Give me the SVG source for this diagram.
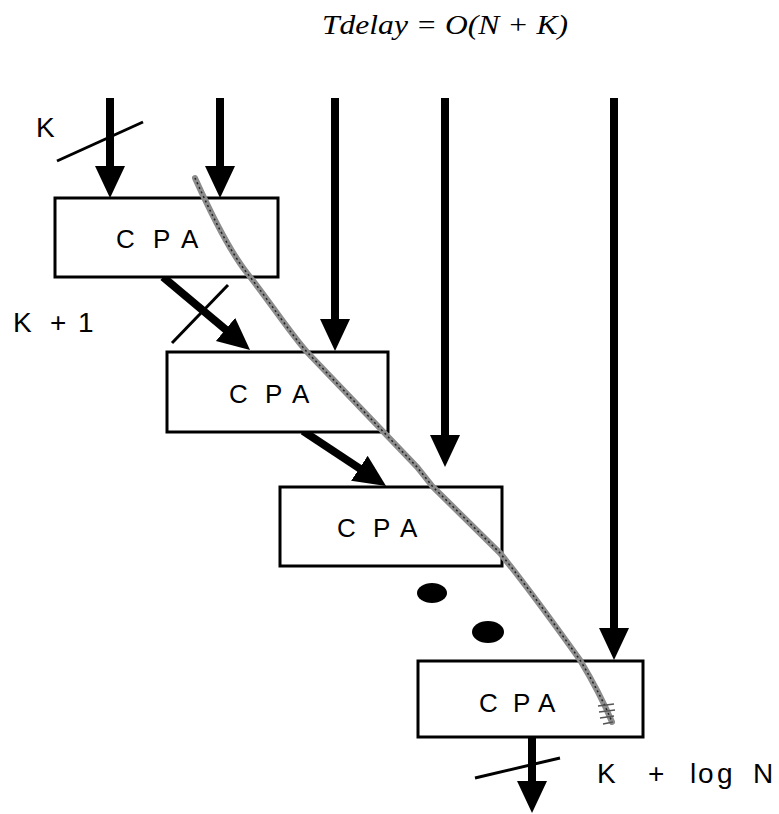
<svg xmlns="http://www.w3.org/2000/svg" width="779" height="814" viewBox="0 0 779 814">
<style>
.box{fill:#fff;stroke:#000;stroke-width:3}
.lbl{font-family:"Liberation Sans",Arial,sans-serif;font-size:26px;fill:#000}
.side{font-family:"Liberation Sans",Arial,sans-serif;font-size:28px;fill:#000}
.arr{stroke:#000;stroke-width:8;fill:none;marker-end:url(#ah)}
.slash{stroke:#000;stroke-width:3;fill:none}
</style>
<defs>
<marker id="ah" markerUnits="userSpaceOnUse" markerWidth="34" markerHeight="32" refX="4" refY="15" orient="auto">
<path d="M0,0 L32,15 L0,30 z" fill="#000"/>
</marker>
</defs>
<rect width="779" height="814" fill="#fff"/>
<text x="322" y="34" font-family="'Liberation Serif','Times New Roman',serif" font-style="italic" font-size="27" textLength="246" lengthAdjust="spacingAndGlyphs">Tdelay = O(N + K)</text>

<g id="connectors">
<line class="arr" x1="110" y1="98" x2="110" y2="170"/>
<line class="arr" x1="220" y1="98" x2="220" y2="170"/>
<line class="arr" x1="335" y1="98" x2="335" y2="323"/>
<line class="arr" x1="445" y1="98" x2="445" y2="439"/>
<line class="arr" x1="614" y1="98" x2="614" y2="632"/>
<line class="arr" x1="163" y1="277" x2="228.6" y2="332"/>
<line class="arr" x1="303" y1="431" x2="362.7" y2="470.5"/>
<line class="arr" x1="532" y1="737" x2="532" y2="785"/>
<line class="slash" x1="57" y1="161" x2="143" y2="122"/>
<line class="slash" x1="228" y1="285" x2="172" y2="343"/>
<line class="slash" x1="475" y1="778" x2="560" y2="758"/>
</g>

<g id="n1"><rect class="box" x="55" y="198" width="223" height="79"/><text class="lbl" x="116 153 181" y="248">CPA</text></g>
<g id="n2"><rect class="box" x="167" y="352" width="221" height="80"/><text class="lbl" x="229 265 292" y="403">CPA</text></g>
<g id="n3"><rect class="box" x="280" y="487" width="222" height="79"/><text class="lbl" x="337 373 400" y="537">CPA</text></g>
<g id="n4"><rect class="box" x="418" y="661" width="225" height="76"/><text class="lbl" x="479 513 538" y="712">CPA</text></g>

<g id="labels">
<text class="side" x="36" y="137">K</text>
<text class="side" x="13 50 78" y="332">K+1</text>
<text class="side" x="597 648 690 698 717 753" y="783">K+logN</text>
</g>

<g id="dots">
<ellipse cx="432" cy="593" rx="15" ry="10" fill="#000"/>
<ellipse cx="488" cy="632" rx="16" ry="11" fill="#000"/>
</g>

<g id="critical-path">
<path d="M195,178 C205,200 225,245 247,273 C270,302 290,333 307,352 L417,467 L433,487 L500,553 C530,590 555,625 580,660 C595,685 605,705 612,722" fill="none" stroke="#8c8c8c" stroke-width="6" stroke-linecap="round"/>
<path d="M195,178 C205,200 225,245 247,273 C270,302 290,333 307,352 L417,467 L433,487 L500,553 C530,590 555,625 580,660 C595,685 605,705 612,722" fill="none" stroke="#222" stroke-width="1.5" stroke-dasharray="2 3"/>
<path d="M598,706 L614,704 M599,712 L615,710 M600,718 L614,716 M603,724 L613,722" stroke="#555" stroke-width="1.5" fill="none"/>
</g>
</svg>
